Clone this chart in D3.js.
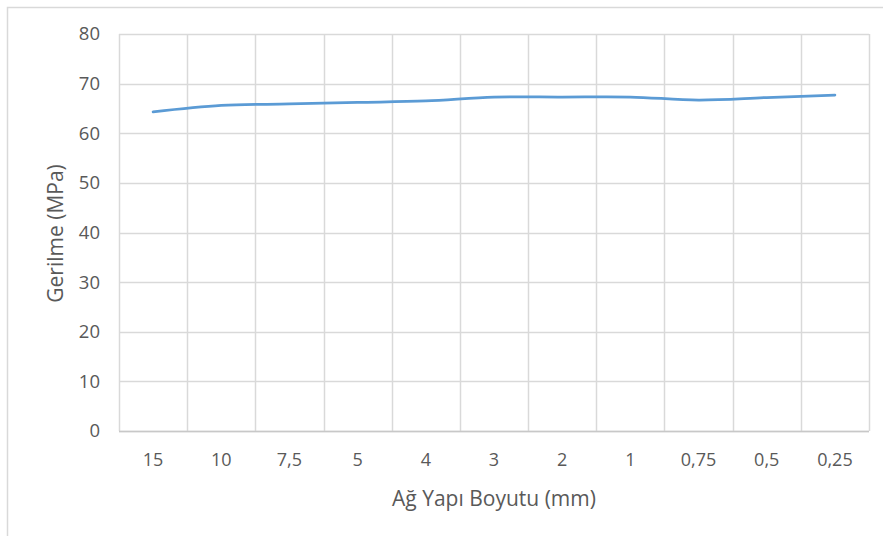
<!DOCTYPE html>
<html><head><meta charset="utf-8">
<script src="https://cdn.jsdelivr.net/npm/d3@7"></script>
<style>html,body{margin:0;padding:0;background:#fff;}svg{display:block;}</style>
</head><body>
<script>
const categories = ["15","10","7,5","5","4","3","2","1","0,75","0,5","0,25"];
const values = [64.3, 65.6, 65.9, 66.2, 66.5, 67.3, 67.3, 67.3, 66.7, 67.2, 67.7];
const yTicks = [0,10,20,30,40,50,60,70,80];
const xTitle = "Ağ Yapı Boyutu (mm)";
const yTitle = "Gerilme (MPa)";

const W = 883, H = 536;
const m = {left:119, right:14, top:34, bottom:105};
const svg = d3.select("body").append("svg").attr("width",W).attr("height",H);
const font = "'Open Sans', sans-serif";
svg.append("rect").attr("x",7.5).attr("y",7.5).attr("width",1000).attr("height",1000)
  .attr("fill","#fff").attr("stroke","#D9D9D9").attr("stroke-width",1.5);

const x = d3.scaleBand().domain(categories).range([m.left, W-m.right]).paddingInner(0).paddingOuter(0);
const y = d3.scaleLinear().domain([0,80]).range([H-m.bottom, m.top]);

const grid = svg.append("g");
grid.selectAll("line.h").data(yTicks).join("line")
  .attr("x1",m.left).attr("x2",W-m.right)
  .attr("y1",d=>Math.round(y(d))+0.5).attr("y2",d=>Math.round(y(d))+0.5)
  .attr("stroke","#D9D9D9").attr("stroke-width",1.5);
const bounds = categories.map(c=>x(c)).concat([x(categories[categories.length-1])+x.bandwidth()]);
grid.selectAll("line.v").data(bounds).join("line")
  .attr("x1",d=>Math.round(d)+0.5).attr("x2",d=>Math.round(d)+0.5)
  .attr("y1",m.top).attr("y2",H-m.bottom)
  .attr("stroke","#D9D9D9").attr("stroke-width",1.5);
svg.append("line").attr("x1",m.left).attr("x2",W-m.right)
  .attr("y1",Math.round(y(0))+0.5).attr("y2",Math.round(y(0))+0.5)
  .attr("stroke","#C8C8C8").attr("stroke-width",1.5);

const yAxis = svg.append("g").attr("transform",`translate(${m.left},0)`)
  .call(d3.axisLeft(y).tickValues(yTicks).tickSize(0).tickPadding(19));
yAxis.select(".domain").remove();
yAxis.selectAll("text").attr("font-family",font).attr("font-size",18.5).attr("fill","#595959");

const xAxis = svg.append("g").attr("transform",`translate(0,${H-m.bottom})`)
  .call(d3.axisBottom(x).tickSize(0).tickPadding(22));
xAxis.select(".domain").remove();
xAxis.selectAll("text").attr("font-family",font).attr("font-size",18).attr("fill","#595959");

const line = d3.line().x((d,i)=>x(categories[i])+x.bandwidth()/2).y(d=>y(d)).curve(d3.curveCatmullRom.alpha(0.5));
svg.append("path").datum(values).attr("d",line).attr("fill","none")
  .attr("stroke","#5B9BD5").attr("stroke-width",2.75).attr("stroke-linecap","round");

svg.append("text").attr("x",(m.left+W-m.right)/2).attr("y",506).attr("text-anchor","middle")
  .attr("font-family",font).attr("font-size",21).attr("fill","#595959").text(xTitle);
svg.append("text").attr("transform",`translate(63,${(m.top+H-m.bottom)/2+1}) rotate(-90)`).attr("text-anchor","middle")
  .attr("font-family",font).attr("font-size",21).attr("fill","#595959").text(yTitle);
</script>
</body></html>
